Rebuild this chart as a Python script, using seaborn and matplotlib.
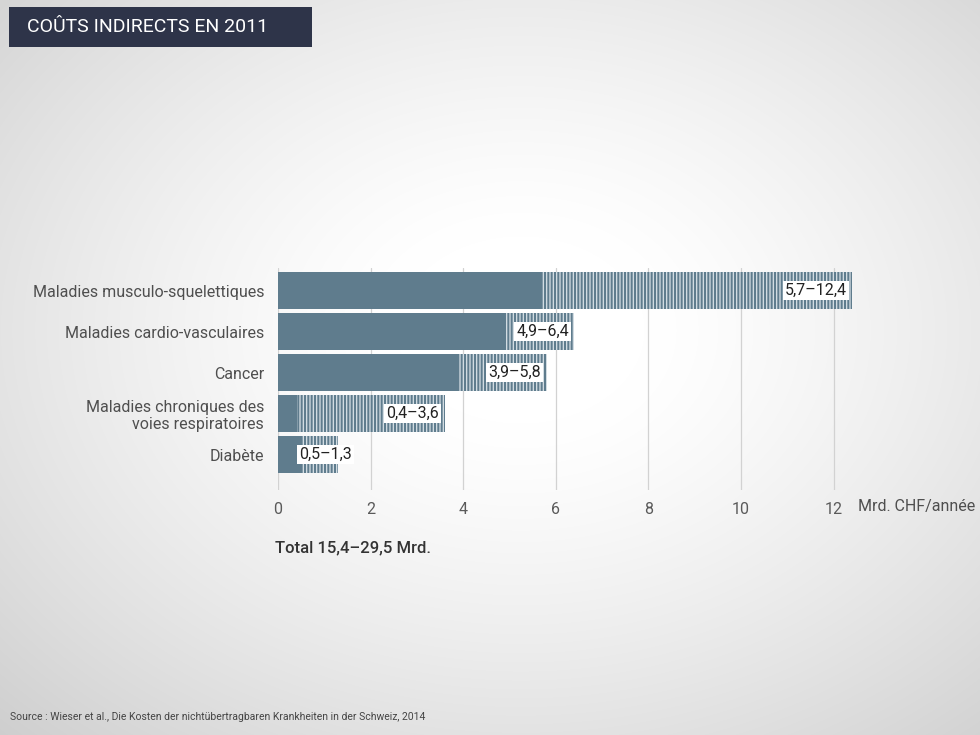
import numpy as np
import pandas as pd
import seaborn as sns
import matplotlib.pyplot as plt
from matplotlib.patches import Rectangle

categories = ["Maladies musculo-squelettiques", "Maladies cardio-vasculaires", "Cancer",
              "Maladies chroniques des\nvoies respiratoires", "Diabète"]
low = [5.7, 4.9, 3.9, 0.4, 0.5]
high = [12.4, 6.4, 5.8, 3.6, 1.3]
range_labels = ["5,7–12,4", "4,9–6,4", "3,9–5,8", "0,4–3,6", "0,5–1,3"]
ticks = [0, 2, 4, 6, 8, 10, 12]

BAR = "#5f7c8d"
W, H = 980, 735

sns.set_theme(style="white")
plt.rcParams['font.family'] = ['Roboto', 'DejaVu Sans']
plt.rcParams['hatch.linewidth'] = 1.45

fig = plt.figure(figsize=(W / 100, H / 100), dpi=100)

# background radial gradient
bg = fig.add_axes([0, 0, 1, 1])
yy, xx = np.mgrid[0:H, 0:W]
r = np.sqrt(((xx - 520) / 620) ** 2 + ((yy - 330) / 470) ** 2)
val = 1 - 0.19 * np.clip(r - 0.2, 0, None) ** 1.3
img = np.dstack([val, val, val])
bg.imshow(img, extent=[0, W, H, 0], aspect='auto', interpolation='bilinear')
bg.set_axis_off()

ax = fig.add_axes([278 / W, 1 - 490 / H, (880 - 278) / W, 222 / H])
ax.patch.set_alpha(0)

df = pd.DataFrame({"cat": categories, "low": low, "high": high})
sns.barplot(data=df, y="cat", x="high", orient="h", color="white", width=0.9,
            saturation=1, ax=ax)
for p in ax.patches:
    p.set_facecolor("#d3dde3")
    p.set_edgecolor(BAR)
    p.set_hatch("|||||")
    p.set_linewidth(0)
n = len(ax.patches)
sns.barplot(data=df, y="cat", x="low", orient="h", color=BAR, width=0.9,
            saturation=1, ax=ax)
for p in ax.patches[n:]:
    p.set_linewidth(0)

for i, (lo, hi, lab) in enumerate(zip(low, high, range_labels)):
    if hi < 2:
        x, ha = lo - 0.05, "left"
    else:
        x, ha = hi - 0.12, "right"
    ax.text(x, i, lab, ha=ha, va="center", fontsize=11.5, color="#222222",
            bbox=dict(facecolor="white", edgecolor="none", pad=1.5))

ax.set_xlim(0, 13)
ax.set_ylim(4.866, -0.55)
ax.set_xticks(ticks)
ax.set_xticklabels([str(t) for t in ticks])
ax.xaxis.grid(True, color="#d2d2d2", linewidth=0.9)
ax.yaxis.grid(False)
ax.set_axisbelow(True)
for s in ax.spines.values():
    s.set_visible(False)
ax.tick_params(axis="x", length=0, pad=9, labelsize=11.5, labelcolor="#5a5a5a")
ax.tick_params(axis="y", length=0, pad=10, labelsize=11.5, labelcolor="#4f4f4f")
ax.set_xlabel("")
ax.set_ylabel("")

fig.text(858 / W, 1 - 507 / H, "Mrd. CHF/année", fontsize=11.5, color="#4f4f4f",
         va="center", ha="left")
fig.text(275 / W, 1 - 548 / H, "Total 15,4–29,5 Mrd.", fontsize=12, color="#333333",
         va="center", ha="left", fontweight="medium")
fig.text(10 / W, 1 - 717 / H,
         "Source : Wieser et al., Die Kosten der nichtübertragbaren Krankheiten in der Schweiz, 2014",
         fontsize=7.5, color="#444444", va="center", ha="left")

fig.patches.append(Rectangle((9 / W, 1 - 47 / H), (312 - 9) / W, 40 / H,
                             transform=fig.transFigure, facecolor="#2e3449",
                             edgecolor="none", zorder=5))
fig.text(27 / W, 1 - 27 / H, "COÛTS INDIRECTS EN 2011", fontsize=14, color="white",
         va="center", ha="left", zorder=6)

fig.savefig("out.png", dpi=100)
